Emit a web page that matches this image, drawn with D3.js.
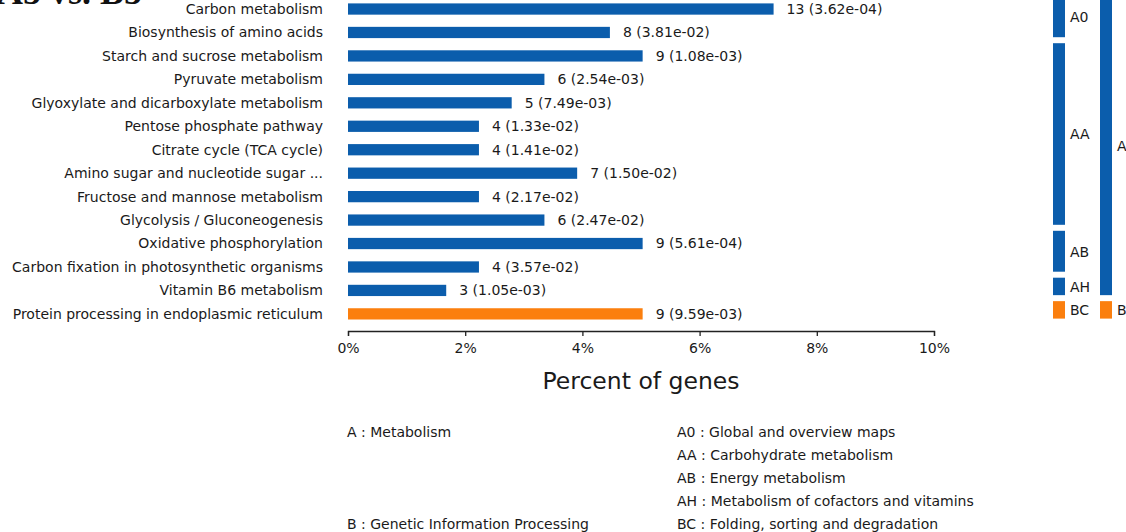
<!DOCTYPE html>
<html>
<head>
<meta charset="utf-8">
<script src="https://cdn.jsdelivr.net/npm/d3@7/dist/d3.min.js"></script>
<style>
  html, body { margin: 0; padding: 0; background: #fff; }
  svg { display: block; }
  text { font-family: "DejaVu Sans", sans-serif; fill: #1a1a1a; }
</style>
</head>
<body>
<svg id="chart" width="1126" height="532"></svg>
<script>
// KEGG pathway enrichment: A5 vs. B5
const pathways = [
  "Carbon metabolism",
  "Biosynthesis of amino acids",
  "Starch and sucrose metabolism",
  "Pyruvate metabolism",
  "Glyoxylate and dicarboxylate metabolism",
  "Pentose phosphate pathway",
  "Citrate cycle (TCA cycle)",
  "Amino sugar and nucleotide sugar ...",
  "Fructose and mannose metabolism",
  "Glycolysis / Gluconeogenesis",
  "Oxidative phosphorylation",
  "Carbon fixation in photosynthetic organisms",
  "Vitamin B6 metabolism",
  "Protein processing in endoplasmic reticulum"
];
const geneCounts = [13, 8, 9, 6, 5, 4, 4, 7, 4, 6, 9, 4, 3, 9];
const pValues = ["3.62e-04", "3.81e-02", "1.08e-03", "2.54e-03", "7.49e-03", "1.33e-02",
  "1.41e-02", "1.50e-02", "2.17e-02", "2.47e-02", "5.61e-04", "3.57e-02", "1.05e-03", "9.59e-03"];
const level2Codes = ["A0", "A0", "AA", "AA", "AA", "AA", "AA", "AA", "AA", "AA", "AB", "AB", "AH", "BC"];
const level1Codes = ["A", "A", "A", "A", "A", "A", "A", "A", "A", "A", "A", "A", "A", "B"];
const totalGenes = 179;
const xTicks = [0, 2, 4, 6, 8, 10];
const level1Legend = [["A", "Metabolism"], ["B", "Genetic Information Processing"]];
const level2Legend = [
  ["A0", "Global and overview maps"],
  ["AA", "Carbohydrate metabolism"],
  ["AB", "Energy metabolism"],
  ["AH", "Metabolism of cofactors and vitamins"],
  ["BC", "Folding, sorting and degradation"]
];

const blue = "#0b5dac";
const orange = "#fb7f0e";
const colorOf = c => (c[0] === "B" ? orange : blue);
const fs = "14px";

const svg = d3.select("#chart");

// Title (sits partly above the visible area)
svg.append("text")
  .attr("x", -3).attr("y", 4)
  .style("font-family", "'Liberation Serif', serif")
  .style("font-size", "36px")
  .style("font-weight", "bold")
  .style("fill", "#111")
  .text("A5 vs. B5");

const x = d3.scaleLinear().domain([0, 10]).range([348, 934]);
const y = d3.scaleBand().domain(d3.range(pathways.length)).range([-2.7, 325.6]).paddingInner(0.52).paddingOuter(0.26);
const yRow = d3.scaleBand().domain(d3.range(pathways.length)).range([-2.7, 325.6]);

const pct = i => geneCounts[i] / totalGenes * 100;

// Bars
svg.append("g").selectAll("rect")
  .data(d3.range(pathways.length))
  .join("rect")
  .attr("x", x(0))
  .attr("y", i => y(i))
  .attr("width", i => x(pct(i)) - x(0))
  .attr("height", y.bandwidth())
  .attr("fill", i => colorOf(level1Codes[i]));

// Pathway names
svg.append("g").selectAll("text")
  .data(d3.range(pathways.length))
  .join("text")
  .attr("x", 323)
  .attr("y", i => yRow(i) + yRow.bandwidth() / 2)
  .attr("dy", "0.35em")
  .attr("text-anchor", "end")
  .style("font-size", fs)
  .text(i => pathways[i]);

// Count and p-value labels
svg.append("g").selectAll("text")
  .data(d3.range(pathways.length))
  .join("text")
  .attr("x", i => x(pct(i)) + 13)
  .attr("y", i => yRow(i) + yRow.bandwidth() / 2)
  .attr("dy", "0.35em")
  .style("font-size", fs)
  .text(i => `${geneCounts[i]} (${pValues[i]})`);

// X axis
const xAxis = svg.append("g")
  .attr("transform", "translate(0,331)")
  .call(d3.axisBottom(x).tickValues(xTicks).tickFormat(d => d + "%").tickSizeOuter(0).tickSize(5).tickPadding(7));
xAxis.select(".domain").attr("stroke", "#222").attr("stroke-width", 1.3);
xAxis.selectAll(".tick line").attr("stroke", "#222").attr("stroke-width", 1.3);
xAxis.selectAll(".tick text")
  .style("font-family", "'DejaVu Sans', sans-serif")
  .style("font-size", fs)
  .attr("fill", "#1a1a1a");

svg.append("text")
  .attr("x", (x(0) + x(10)) / 2)
  .attr("y", 389)
  .attr("text-anchor", "middle")
  .style("font-size", "23.5px")
  .text("Percent of genes");

// Category strips on the right
function groups(codes) {
  const out = [];
  codes.forEach((c, i) => {
    const last = out[out.length - 1];
    if (last && last.code === c) last.end = i;
    else out.push({ code: c, start: i, end: i });
  });
  return out;
}
const gap = 6;
function drawStrip(codes, x0) {
  const g = svg.append("g");
  const gs = groups(codes);
  g.selectAll("rect").data(gs).join("rect")
    .attr("x", x0).attr("width", 12)
    .attr("y", d => yRow(d.start) - 1)
    .attr("height", d => yRow(d.end) + yRow.bandwidth() - yRow(d.start) - gap)
    .attr("fill", d => colorOf(d.code));
  g.selectAll("text").data(gs).join("text")
    .attr("x", x0 + 17)
    .attr("y", d => (yRow(d.start) - 1 + yRow(d.end) + yRow.bandwidth() - gap) / 2)
    .attr("dy", "0.35em")
    .style("font-size", fs)
    .text(d => d.code);
}
drawStrip(level2Codes, 1053);
drawStrip(level1Codes, 1100);

// Legend
svg.append("g").selectAll("text")
  .data(level1Legend)
  .join("text")
  .attr("x", 347)
  .attr("y", (d, i) => (i === 0 ? 432 : 524))
  .attr("dy", "0.35em")
  .style("font-size", fs)
  .text(d => `${d[0]} : ${d[1]}`);

svg.append("g").selectAll("text")
  .data(level2Legend)
  .join("text")
  .attr("x", 677)
  .attr("y", (d, i) => 432 + i * 23)
  .attr("dy", "0.35em")
  .style("font-size", fs)
  .text(d => `${d[0]} : ${d[1]}`);
</script>
</body>
</html>
